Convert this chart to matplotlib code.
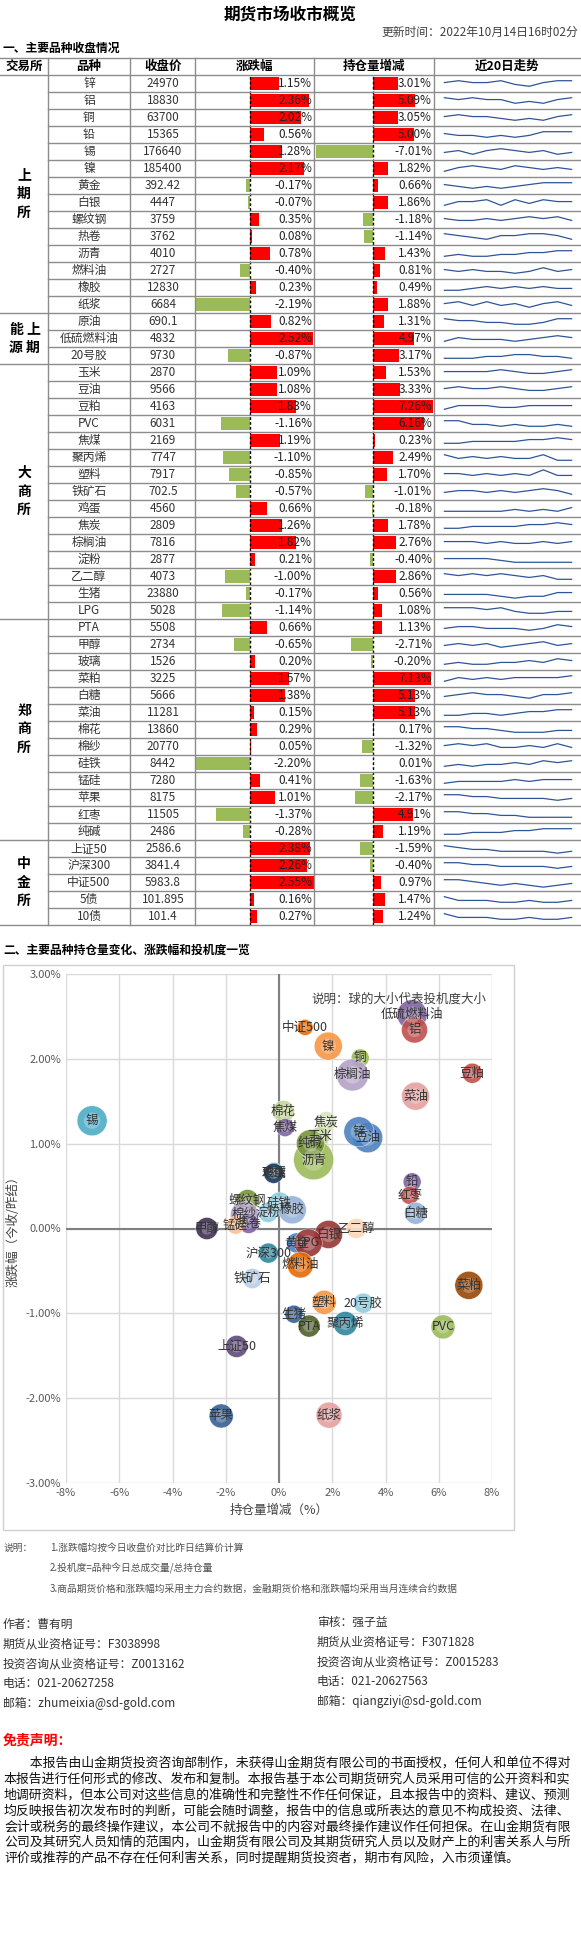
import matplotlib
matplotlib.use("Agg")
import matplotlib.pyplot as plt

plt.rcParams['font.family'] = ['Noto Sans CJK SC', 'DejaVu Sans']

# ---------------- data ----------------
exchanges = [("上期所", 0, 14), ("能源", 14, 17), ("大商所", 17, 32), ("郑商所", 32, 45), ("中金所", 45, 50)]
products = ["锌","铝","铜","铅","锡","镍","黄金","白银","螺纹钢","热卷","沥青","燃料油","橡胶","纸浆",
            "原油","低硫燃料油","20号胶",
            "玉米","豆油","豆粕","PVC","焦煤","聚丙烯","塑料","铁矿石","鸡蛋","焦炭","棕榈油","淀粉","乙二醇","生猪","LPG",
            "PTA","甲醇","玻璃","菜粕","白糖","菜油","棉花","棉纱","硅铁","锰硅","苹果","红枣","纯碱",
            "上证50","沪深300","中证500","5债","10债"]
close = ["24970","18830","63700","15365","176640","185400","392.42","4447","3759","3762","4010","2727","12830","6684",
         "690.1","4832","9730",
         "2870","9566","4163","6031","2169","7747","7917","702.5","4560","2809","7816","2877","4073","23880","5028",
         "5508","2734","1526","3225","5666","11281","13860","20770","8442","7280","8175","11505","2486",
         "2586.6","3841.4","5983.8","101.895","101.4"]
chg = [1.15,2.36,2.02,0.56,1.28,2.17,-0.17,-0.07,0.35,0.08,0.78,-0.40,0.23,-2.19,
       0.82,2.52,-0.87,
       1.09,1.08,1.83,-1.16,1.19,-1.10,-0.85,-0.57,0.66,1.26,1.82,0.21,-1.00,-0.17,-1.14,
       0.66,-0.65,0.20,1.57,1.38,0.15,0.29,0.05,-2.20,0.41,1.01,-1.37,-0.28,
       2.38,2.26,2.55,0.16,0.27]
oi = [3.01,5.09,3.05,5.00,-7.01,1.82,0.66,1.86,-1.18,-1.14,1.43,0.81,0.49,1.88,
      1.31,4.97,3.17,
      1.53,3.33,7.26,6.16,0.23,2.49,1.70,-1.01,-0.18,1.78,2.76,-0.40,2.86,0.56,1.08,
      1.13,-2.71,-0.20,7.13,5.13,5.13,0.17,-1.32,0.01,-1.63,-2.17,4.91,1.19,
      -1.59,-0.40,0.97,1.47,1.24]
trend = [
 [5,6,5,5,6,4,3,5,6,6],[6,5,6,5,5,3,4,3,5,6],[5,6,5,5,4,3,4,3,5,6],[5,4,4,3,4,3,4,6,6,6],
 [4,5,3,5,6,5,4,5,3,4],[3,5,6,5,4,6,5,4,5,4],[5,4,3,4,3,4,5,6,6,6],[3,5,5,6,3,6,4,6,5,5],
 [5,4,4,5,4,5,6,5,6,4],[6,5,4,3,5,5,6,6,5,3],[3,4,3,3,4,4,5,5,6,6],[5,4,5,4,4,3,4,6,4,5],
 [3,3,4,5,4,5,4,5,4,4],[5,6,4,6,4,5,3,5,6,4],
 [6,5,5,4,4,3,3,4,6,6],[3,5,4,4,4,3,4,5,6,5],[3,3,3,4,4,5,5,4,4,3],
 [5,5,5,5,6,5,4,4,5,6],[5,6,5,5,6,5,4,4,5,6],[3,5,5,5,4,4,5,5,5,5],[6,6,4,4,3,4,3,3,4,3],
 [3,3,4,4,4,4,5,5,6,5],[6,4,5,4,5,4,4,6,3,3],[5,5,4,5,4,5,4,7,4,4],[4,5,5,4,5,4,5,6,5,3],
 [3,3,3,3,3,4,3,4,3,5],[3,3,4,4,4,4,5,5,6,5],[5,5,5,4,5,4,4,5,4,5],[5,5,5,5,4,3,3,3,3,3],
 [6,5,6,5,6,5,4,5,3,3],[4,4,4,4,3,2,3,3,5,5],[6,6,6,5,6,4,3,3,4,4],
 [4,5,5,4,4,4,3,4,6,5],[4,5,4,5,3,4,5,6,4,5],[3,4,3,3,4,4,5,4,6,5],[3,5,4,5,4,5,5,5,5,6],
 [4,5,6,5,5,4,3,5,5,6],[3,3,4,4,3,4,5,5,6,6],[6,6,5,5,4,3,3,3,4,4],[5,6,5,6,4,4,5,4,6,4],
 [3,4,3,4,4,5,4,6,5,6],[3,4,4,4,4,5,4,5,5,5],[6,6,5,5,4,4,4,4,3,4],[6,6,5,5,4,4,3,3,3,3],
 [3,3,4,4,4,5,5,6,6,6],
 [6,5,4,4,3,3,3,3,2,3],[6,6,5,5,4,4,4,4,3,4],[6,6,5,4,3,4,3,2,3,4],[6,4,4,4,3,3,4,3,3,4],
 [6,4,4,4,3,3,4,3,3,4]]

# bubble chart data
b_names = ["锡","中证500","镍","铜","棕榈油","低硫燃料油","铝","豆粕","菜油","棉花","焦煤","焦炭","豆油","锌",
           "玉米","沥青","纯碱","鸡蛋","玻璃","铅","红枣","螺纹钢","硅铁","橡胶","淀粉","棉纱","热卷","锰硅",
           "甲醇","白银","乙二醇","白糖","黄金","LPG","沪深300","燃料油","铁矿石","菜粕","塑料","20号胶",
           "生猪","PTA","聚丙烯","PVC","上证50","苹果","纸浆"]
b_x = [-7.02,0.98,1.85,3.05,2.76,5.0,5.09,7.26,5.13,0.17,0.23,1.78,3.33,3.0,
       1.53,1.3,1.18,-0.18,-0.2,5.0,4.91,-1.18,0.02,0.5,-0.41,-1.3,-1.14,-1.63,
       -2.71,1.86,2.9,5.13,0.66,1.1,-0.4,0.8,-1.0,7.13,1.7,3.17,
       0.56,1.13,2.49,6.16,-1.59,-2.17,1.88]
b_y = [1.27,2.37,2.15,2.01,1.81,2.52,2.34,1.83,1.56,1.38,1.19,1.26,1.07,1.14,
       1.08,0.81,1.0,0.66,0.65,0.55,0.39,0.33,0.30,0.22,0.19,0.16,0.06,0.04,
       0.0,-0.07,0.0,0.18,-0.17,-0.17,-0.29,-0.43,-0.59,-0.67,-0.87,-0.88,
       -1.01,-1.15,-1.12,-1.16,-1.39,-2.21,-2.2]
b_spec = [15,8,14,9,16,15,13,10,14,11,9,10,15,15,
          10,20,14,10,10,9,9,11,11,14,10,14,10,9,
          11,14,10,11,10,14,10,13,10,14,12,10,
          9,11,12,12,11,12,13]
b_colors = ["#4bacc6","#e46c0a","#f79646","#9bbb59","#b3a2c7","#8064a2","#c0504d","#c0504d","#e6a0a0","#c3d69b",
            "#8064a2","#d7e4bd","#4f81bd","#4f81bd","#c3d69b","#9bbb59","#77933c","#4bacc6","#254061","#8064a2",
            "#c0504d","#77933c","#93cddd","#95b3d7","#93cddd","#b3a2c7","#8064a2","#fac090","#403152","#953735",
            "#fcd5b5","#95b3d7","#4f81bd","#953735","#31859c","#e46c0a","#b9cde5","#984807","#f79646","#93cddd",
            "#376092","#4f6228","#31859c","#9bbb59","#5f497a","#376092","#e6a0a0"]

# ---------------- figure ----------------
W, H = 581, 1945
fig = plt.figure(figsize=(W/100, H/100), dpi=100)
ax = fig.add_axes([0, 0, 1, 1])
ax.set_xlim(0, W); ax.set_ylim(H, 0); ax.axis('off')
ax.set_zorder(10); ax.patch.set_alpha(0)

ax.text(290, 14, "期货市场收市概览", ha='center', va='center', fontsize=12, fontweight='bold')
ax.text(578, 32, "更新时间：2022年10月14日16时02分", ha='right', va='center', fontsize=8.5, color='#404040')
ax.text(3, 48, "一、主要品种收盘情况", ha='left', va='center', fontsize=8.5, fontweight='bold')

top, rh, n = 75, 17, len(products)
grey = '#8c8c8c'
cols = [48, 130, 195, 314, 434]
for xc, lab in zip([24, 89, 163, 255, 374, 507], ["交易所","品种","收盘价","涨跌幅","持仓量增减","近20日走势"]):
    ax.text(xc, 66.5, lab, ha='center', va='center', fontsize=9, fontweight='bold')
ax.plot([0, W], [58, 58], color=grey, lw=1)
ax.plot([0, W], [top, top], color=grey, lw=1)
for xc in cols:
    ax.plot([xc, xc], [58, top + n*rh], color=grey, lw=1)
bounds = [e[2] for e in exchanges]
for i in range(1, n+1):
    y = top + i*rh
    x0 = 0 if i in bounds else 48
    ax.plot([x0, W], [y, y], color=grey, lw=1)
for name, s, e in exchanges:
    cy = top + (s+e)/2*rh
    if name == "能源":
        for (cx, cyy, ch) in [(16, cy-9, "能"), (33, cy-9, "上"), (16, cy+9, "源"), (33, cy+9, "期")]:
            ax.text(cx, cyy, ch, ha='center', va='center', fontsize=10, fontweight='bold')
    else:
        for k, ch in enumerate(name):
            ax.text(24, cy + (k-1)*18.5, ch, ha='center', va='center', fontsize=10, fontweight='bold')
for i in range(n):
    cy = top + i*rh + rh/2
    ax.text(89, cy, products[i], ha='center', va='center', fontsize=8.5, color='#333333')
    ax.text(163, cy, close[i], ha='center', va='center', fontsize=8.5, color='#333333')
    ax.text(312, cy, f"{chg[i]:.2f}%", ha='right', va='center', fontsize=8.5, color='#222222')
    ax.text(432, cy, f"{oi[i]:.2f}%", ha='right', va='center', fontsize=8.5, color='#222222')

def col_axes(x0, x1):
    a = fig.add_axes([x0/W, 1-(top+n*rh)/H, (x1-x0)/W, n*rh/H])
    a.set_ylim(n, 0); a.axis('off'); a.patch.set_alpha(0)
    return a
a1 = col_axes(195, 314); a1.set_xlim(-2.2, 2.55)
a2 = col_axes(314, 434); a2.set_xlim(-7.2, 7.44)
for a, vals in [(a1, chg), (a2, oi)]:
    cl = ['#ff0000' if v >= 0 else '#9bbb59' for v in vals]
    a.barh([i+0.5 for i in range(n)], vals, height=0.78, color=cl)
    a.axvline(0, color='black', lw=1, ls=(0, (2, 1.5)))

for i in range(n):
    y0 = top + i*rh
    s = fig.add_axes([438/W, 1-(y0+rh-2)/H, 140/W, (rh-4)/H])
    s.plot(range(len(trend[i])), trend[i], color='#2f5597', lw=0.9)
    s.set_ylim(1, 8); s.axis('off')

# ---------------- bubble chart ----------------
ax.text(3, 950, "二、主要品种持仓量变化、涨跌幅和投机度一览", ha='left', va='center', fontsize=8.5, fontweight='bold')
ax.add_patch(plt.Rectangle((3, 965), 511, 565, fill=False, edgecolor='#d0d0d0', lw=1))
bx = fig.add_axes([66/W, 1-1483/H, 426/W, 509/H])
bx.set_xlim(-8, 8); bx.set_ylim(-3, 3)
bx.set_xticks(range(-8, 9, 2))
bx.set_xticklabels([f"{v}%" for v in range(-8, 9, 2)], fontsize=8, color='#595959')
bx.set_yticks([-3, -2, -1, 0, 1, 2, 3])
bx.set_yticklabels([f"{v:.2f}%" for v in [-3, -2, -1, 0, 1, 2, 3]], fontsize=8, color='#595959')
bx.grid(True, color='#d9d9d9', lw=1)
bx.set_axisbelow(True)
for sp in bx.spines.values():
    sp.set_visible(False)
bx.tick_params(length=0)
bx.axhline(0, color='#808080', lw=1.5, zorder=1)
bx.axvline(0, color='#808080', lw=1.5, zorder=1)
sizes = [(2*r*0.72)**2 for r in b_spec]
bx.scatter(b_x, b_y, s=sizes, c=b_colors, alpha=0.9, edgecolors='white', linewidths=0.3, zorder=3)
bx.scatter(b_x, b_y, s=[v*0.3 for v in sizes], c='white', alpha=0.25, edgecolors='none', zorder=4)
for nm, x, y in zip(b_names, b_x, b_y):
    bx.text(x, y, nm, ha='center', va='center', fontsize=9, color='#333333', zorder=5)
bx.text(7.8, 2.7, "说明：球的大小代表投机度大小", ha='right', va='center', fontsize=9, color='#404040')
bx.set_xlabel("持仓量增减（%）", fontsize=9, color='#404040', labelpad=4)
bx.set_ylabel("涨跌幅（今收/昨结）", fontsize=9, color='#404040', labelpad=4)

# ---------------- notes ----------------
nc = '#505050'
ax.text(4, 1548, "说明：", fontsize=7, color=nc, va='center')
for k, t in enumerate(["1.涨跌幅均按今日收盘价对比昨日结算价计算",
                       "2.投机度=品种今日总成交量/总持仓量",
                       "3.商品期货价格和涨跌幅均采用主力合约数据，金融期货价格和涨跌幅均采用当月连续合约数据"]):
    ax.text(50, 1548 + k*20.5, t, fontsize=7, color=nc, va='center')

left = ["作者：曹有明", "期货从业资格证号：F3038998", "投资咨询从业资格证号：Z0013162",
        "电话：021-20627258", "邮箱：zhumeixia@sd-gold.com"]
right = ["审核：强子益", "期货从业资格证号：F3071828", "投资咨询从业资格证号：Z0015283",
         "电话：021-20627563", "邮箱：qiangziyi@sd-gold.com"]
for k, (l, r) in enumerate(zip(left, right)):
    ax.text(3, 1624 + k*20, l, fontsize=8.5, color='#333333', va='center')
    ax.text(317, 1622 + k*20, r, fontsize=8.5, color='#333333', va='center')

ax.text(3, 1740, "免责声明：", fontsize=10, color='#ff0000', fontweight='bold', va='center')
disc = ["　　本报告由山金期货投资咨询部制作，未获得山金期货有限公司的书面授权，任何人和单位不得对",
        "本报告进行任何形式的修改、发布和复制。本报告基于本公司期货研究人员采用可信的公开资料和实",
        "地调研资料，但本公司对这些信息的准确性和完整性不作任何保证，且本报告中的资料、建议、预测",
        "均反映报告初次发布时的判断，可能会随时调整，报告中的信息或所表达的意见不构成投资、法律、",
        "会计或税务的最终操作建议，本公司不就报告中的内容对最终操作建议作任何担保。在山金期货有限",
        "公司及其研究人员知情的范围内，山金期货有限公司及其期货研究人员以及财产上的利害关系人与所",
        "评价或推荐的产品不存在任何利害关系，同时提醒期货投资者，期市有风险，入市须谨慎。"]
for k, t in enumerate(disc):
    ax.text(4, 1763 + k*15.9, t, fontsize=9.3, color='#111111', va='center')

fig.savefig("out.png", dpi=100)
